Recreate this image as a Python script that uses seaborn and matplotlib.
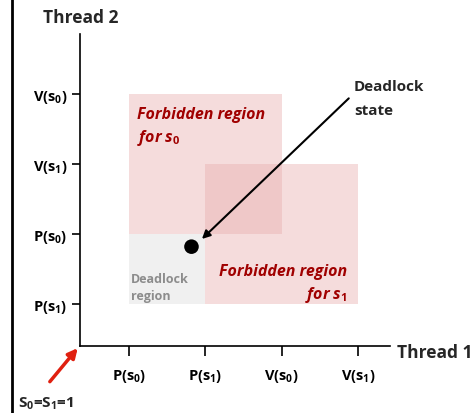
import matplotlib
matplotlib.use('Agg')
import matplotlib.pyplot as plt
import seaborn as sns
import pandas as pd
from matplotlib.patches import Rectangle
from matplotlib.lines import Line2D

# progress-graph data
x_ticks = [1, 2, 3, 4]
x_labels = ['P(s$_0$)', 'P(s$_1$)', 'V(s$_0$)', 'V(s$_1$)']
y_ticks = [1, 2, 3, 4]
y_labels = ['P(s$_1$)', 'P(s$_0$)', 'V(s$_1$)', 'V(s$_0$)']

# regions: (x0, x1, y0, y1)
forbidden_s0 = [1, 3, 2, 4]
forbidden_s1 = [2, 4, 1, 3]
deadlock_region = [1, 2, 1, 2]

deadlock_x = [1.82]
deadlock_y = [1.82]

FONT = 'Open Sans'
sns.set_style('white')
plt.rcParams['font.family'] = [FONT, 'DejaVu Sans']
plt.rcParams['mathtext.fontset'] = 'custom'
plt.rcParams['mathtext.rm'] = FONT + ':bold'
plt.rcParams['mathtext.it'] = FONT + ':bold:italic'
plt.rcParams['mathtext.bf'] = FONT + ':bold'

fig = plt.figure(figsize=(4.74, 4.14), dpi=100)
ax = fig.add_axes([80 / 474, 67 / 414, 310 / 474, 312 / 414])

pink = '#e8aeae'
ax.add_patch(Rectangle((deadlock_region[0], deadlock_region[2]),
                       deadlock_region[1] - deadlock_region[0],
                       deadlock_region[3] - deadlock_region[2],
                       facecolor='#f0f0f0', edgecolor='none', zorder=1))
for r in (forbidden_s0, forbidden_s1):
    ax.add_patch(Rectangle((r[0], r[2]), r[1] - r[0], r[3] - r[2],
                           facecolor=pink, alpha=0.43, edgecolor='none', zorder=1))

pts = pd.DataFrame({'x': deadlock_x, 'y': deadlock_y})
sns.scatterplot(data=pts, x='x', y='y', ax=ax, s=110, color='black',
                edgecolor='none', zorder=5, legend=False)

ax.set_xlim(0.36, 4.42)
ax.set_ylim(0.4, 4.86)
ax.set_xticks(x_ticks)
ax.set_xticklabels(x_labels, fontweight='bold', fontsize=10.5)
ax.set_yticks(y_ticks)
ax.set_yticklabels(y_labels, fontweight='bold', fontsize=10.5)
ax.tick_params(axis='x', direction='out', length=7, width=1.2, pad=8, colors='black', bottom=True)
ax.tick_params(axis='y', direction='out', length=6, width=1.2, pad=3, colors='black', left=True)
ax.set_xlabel('')
ax.set_ylabel('')
for s in ['top', 'right']:
    ax.spines[s].set_visible(False)
for s in ['left', 'bottom']:
    ax.spines[s].set_color('black')
    ax.spines[s].set_linewidth(1.2)

red = '#a00000'
fkw = dict(color=red, fontsize=11.5, fontweight='bold', fontstyle='italic', va='center')
ax.text(1.1, 3.71, 'Forbidden region', ha='left', **fkw)
ax.text(1.1, 3.39, 'for s$_\\mathit{0}$', ha='left', **fkw)
ax.text(3.86, 1.47, 'Forbidden region', ha='right', **fkw)
ax.text(3.86, 1.14, 'for s$_\\mathit{1}$', ha='right', **fkw)
gkw = dict(color='#8c8c8c', fontsize=9, fontweight='bold', ha='left', va='center')
ax.text(1.03, 1.36, 'Deadlock', **gkw)
ax.text(1.03, 1.12, 'region', **gkw)

ax.text(3.95, 4.11, 'Deadlock', fontsize=11, fontweight='bold', ha='left', va='center')
ax.text(3.95, 3.78, 'state', fontsize=11, fontweight='bold', ha='left', va='center')

ax.annotate('', xy=(1.957, 1.93), xytext=(3.88, 3.94),
            arrowprops=dict(arrowstyle='-|>', color='black', lw=1.5,
                            mutation_scale=12, shrinkA=0, shrinkB=0),
            annotation_clip=False)
ax.annotate('', xy=(0.33, 0.37), xytext=(-0.035, -0.11),
            arrowprops=dict(arrowstyle='-|>', color='#e02010', lw=2.5,
                            mutation_scale=14, shrinkA=0, shrinkB=0),
            annotation_clip=False)

ax.text(-0.13, 5.1, 'Thread 2', fontsize=12.5, fontweight='bold', ha='left', va='center')
ax.text(4.51, 0.31, 'Thread 1', fontsize=12.5, fontweight='bold', ha='left', va='center')
ax.text(-0.45, -0.41, 'S$_0$=S$_1$=1', fontsize=11, fontweight='bold', ha='left', va='center')

fig.add_artist(Line2D([11.5 / 474, 11.5 / 474], [0, 1], color='black', lw=2,
                      transform=fig.transFigure))

fig.savefig('out.png', dpi=100)
